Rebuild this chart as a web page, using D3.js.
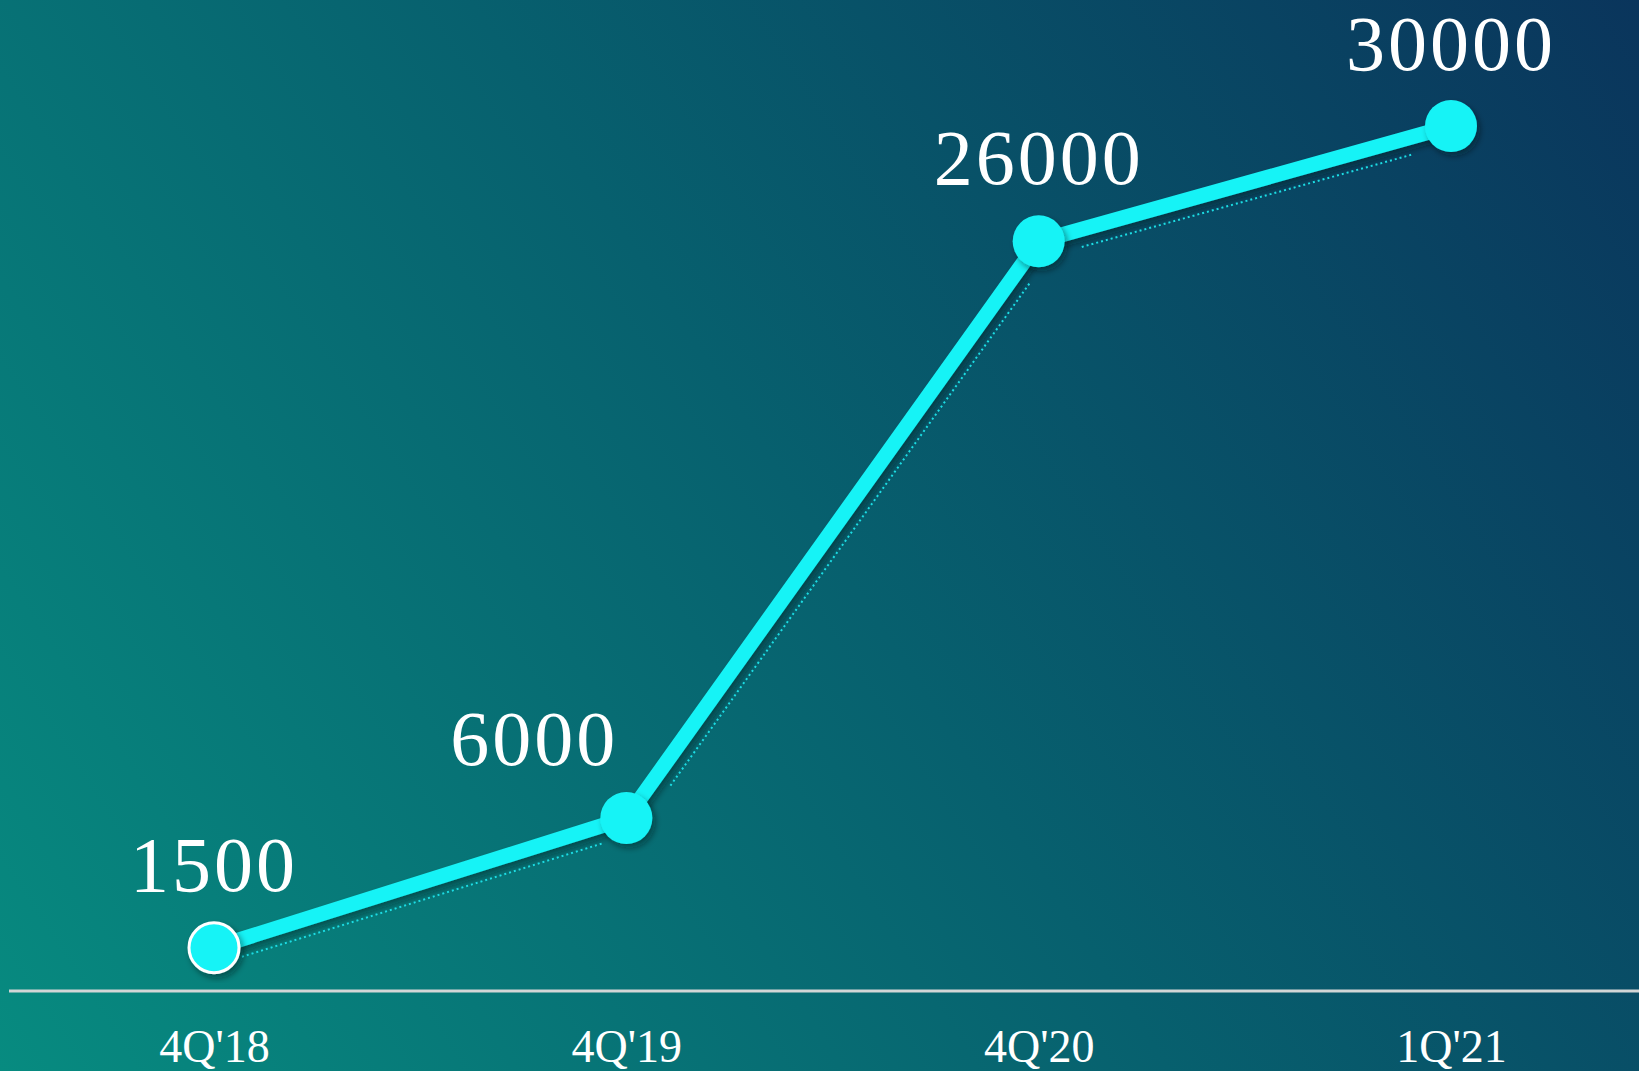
<!DOCTYPE html>
<html>
<head>
<meta charset="utf-8">
<script src="https://cdn.jsdelivr.net/npm/d3@7"></script>
<style>
  html, body { margin: 0; padding: 0; overflow: hidden; background: #0a6270; }
  svg { display: block; }
</style>
</head>
<body>
<svg id="chart" width="1639" height="1071"></svg>
<script>
// ---- Data ----
const categories = ["4Q'18", "4Q'19", "4Q'20", "1Q'21"];
const values = [1500, 6000, 26000, 30000];
const valueLabels = ["1500", "6000", "26000", "30000"];

// ---- Layout ----
const W = 1639, H = 1071;
const svg = d3.select("#chart");
const defs = svg.append("defs");

const grad = defs.append("linearGradient")
  .attr("id", "bg").attr("gradientUnits", "userSpaceOnUse")
  .attr("x1", 0).attr("y1", H).attr("x2", W).attr("y2", 0);
grad.append("stop").attr("offset", "0%").attr("stop-color", "#078b80");
grad.append("stop").attr("offset", "50%").attr("stop-color", "#07606e");
grad.append("stop").attr("offset", "100%").attr("stop-color", "#0a355c");

const sh = defs.append("filter").attr("id", "shadow")
  .attr("x", "-20%").attr("y", "-20%").attr("width", "140%").attr("height", "140%");
sh.append("feDropShadow").attr("dx", 3).attr("dy", 4).attr("stdDeviation", 3)
  .attr("flood-color", "#00131f").attr("flood-opacity", 0.45);

svg.append("rect").attr("width", W).attr("height", H).attr("fill", "url(#bg)");

const x = d3.scalePoint().domain(categories).range([214, 1451]);
const y = d3.scaleLinear().domain([0, 30000]).range([991, 126]);

const cyan = "#19f3f6";

// x axis
const xAxis = d3.axisBottom(x).tickSize(0).tickPadding(0);
const gx = svg.append("g").attr("transform", "translate(0,991)").call(xAxis);
gx.select(".domain").remove();
gx.append("line").attr("x1", 9).attr("x2", W).attr("y1", 0).attr("y2", 0)
  .attr("stroke", "#d2d6d6").attr("stroke-width", 3);
gx.selectAll(".tick text")
  .attr("y", 71).attr("dy", 0)
  .attr("fill", "#ffffff")
  .attr("font-family", "'Liberation Serif', serif")
  .attr("font-size", 46)
  .attr("text-anchor", "middle");

const pts = categories.map((c, i) => [x(c), y(values[i])]);

// dotted offset shadow lines
const trimStart = [24, 52, 40], trimEnd = [30, 38, 44], offset = 17;
for (let i = 0; i < pts.length - 1; i++) {
  const [x0, y0] = pts[i], [x1, y1] = pts[i + 1];
  const dx = x1 - x0, dy = y1 - y0, L = Math.hypot(dx, dy);
  const ux = dx / L, uy = dy / L;
  const px = -uy * offset, py = ux * offset; // perpendicular toward lower-right
  svg.append("line")
    .attr("x1", x0 + ux * trimStart[i] + px).attr("y1", y0 + uy * trimStart[i] + py)
    .attr("x2", x1 - ux * trimEnd[i] + px).attr("y2", y1 - uy * trimEnd[i] + py)
    .attr("stroke", "#1de3ea").attr("stroke-width", 2)
    .attr("stroke-dasharray", "2,3");
}

// main line
const line = d3.line().x(d => d[0]).y(d => d[1]);
svg.append("path").datum(pts)
  .attr("d", line)
  .attr("fill", "none").attr("stroke", cyan).attr("stroke-width", 15)
  .attr("stroke-linejoin", "round")
  .attr("filter", "url(#shadow)");

// points
svg.selectAll("circle.pt").data(pts).enter().append("circle")
  .attr("class", "pt")
  .attr("cx", d => d[0]).attr("cy", d => d[1])
  .attr("r", (d, i) => i === 0 ? 25 : 26)
  .attr("fill", cyan)
  .attr("stroke", (d, i) => i === 0 ? "#ffffff" : "none")
  .attr("stroke-width", 3)
  .attr("filter", "url(#shadow)");

// value labels
const labelDx = [0, -92, 0, 0];
const labelDy = [-57, -53, -57, -56];
svg.selectAll("text.val").data(pts).enter().append("text")
  .attr("class", "val")
  .attr("x", (d, i) => d[0] + labelDx[i])
  .attr("y", (d, i) => d[1] + labelDy[i])
  .attr("text-anchor", "middle")
  .attr("fill", "#ffffff")
  .attr("font-family", "'Liberation Serif', serif")
  .attr("font-size", 78)
  .attr("letter-spacing", 3)
  .text((d, i) => valueLabels[i]);
</script>
</body>
</html>
